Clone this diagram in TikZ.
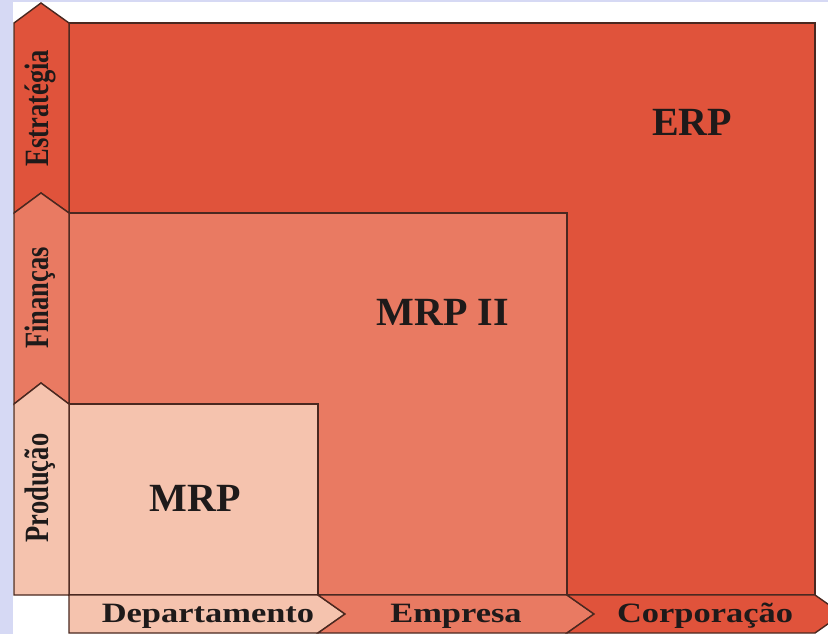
\documentclass[tikz,border=0pt]{standalone}
\usepackage{fontspec}
\setmainfont{Liberation Serif}
\definecolor{bgl}{HTML}{D6D9F4}
\definecolor{erpc}{HTML}{E0533B}
\definecolor{mrp2c}{HTML}{E97A62}
\definecolor{mrpc}{HTML}{F5C3AE}
\definecolor{edge}{HTML}{4A2820}
\definecolor{ink}{HTML}{1E1A1A}
\tikzset{
  blk/.style={draw=edge, line width=1.4pt, line join=miter},
  biglabel/.style={text=ink, font=\fontsize{40}{40}\selectfont\bfseries, inner sep=0pt},
  vlabel/.style={text=ink, font=\fontsize{34}{34}\selectfont\bfseries, rotate=90, inner sep=0pt},
  hlabel/.style={text=ink, font=\fontsize{28}{28}\selectfont\bfseries, inner sep=0pt, anchor=base}
}
\begin{document}
\begin{tikzpicture}[x=1pt,y=-1pt]
\clip (0,0) rectangle (828,634);
\fill[bgl] (0,0) rectangle (828,634);
\fill[white] (13,2) rectangle (828,634);
% nested blocks
\filldraw[blk, fill=erpc] (69,23) rectangle (815,595);
\filldraw[blk, fill=mrp2c] (69,213) rectangle (567,595);
\filldraw[blk, fill=mrpc] (69,404) rectangle (318,595);
% vertical arrows
\filldraw[blk, fill=erpc] (41,3) -- (69,23) -- (69,213) -- (41,193) -- (14,213) -- (14,23) -- cycle;
\filldraw[blk, fill=mrp2c] (41,193) -- (69,213) -- (69,404) -- (41,383) -- (14,404) -- (14,213) -- cycle;
\filldraw[blk, fill=mrpc] (41,383) -- (69,404) -- (69,595) -- (14,595) -- (14,404) -- cycle;
% horizontal arrows
\filldraw[blk, fill=mrpc] (69,595) -- (318,595) -- (345,614) -- (318,633) -- (69,633) -- cycle;
\filldraw[blk, fill=mrp2c] (318,595) -- (567,595) -- (594,614) -- (567,633) -- (318,633) -- (345,614) -- cycle;
\filldraw[blk, fill=erpc] (567,595) -- (815,595) -- (842,614) -- (815,633) -- (567,633) -- (594,614) -- cycle;
% labels
\node[biglabel] (erp) at (692,122) {ERP};
\node[biglabel] (mrp2) at (443,312) {MRP II};
\node[biglabel] (mrp) at (195,498) {MRP};
\node[vlabel] (estr) at (40,108) {\scalebox{0.78}[1]{Estratégia}};
\node[vlabel] (fin) at (40,298) {\scalebox{0.78}[1]{Finanças}};
\node[vlabel] (prod) at (40,488) {\scalebox{0.78}[1]{Produção}};
\node[hlabel] (dep) at (208,622) {\scalebox{1.23}[1]{Departamento}};
\node[hlabel] (emp) at (456,622) {\scalebox{1.23}[1]{Empresa}};
\node[hlabel] (corp) at (705,622) {\scalebox{1.23}[1]{Corporação}};
\end{tikzpicture}
\end{document}
